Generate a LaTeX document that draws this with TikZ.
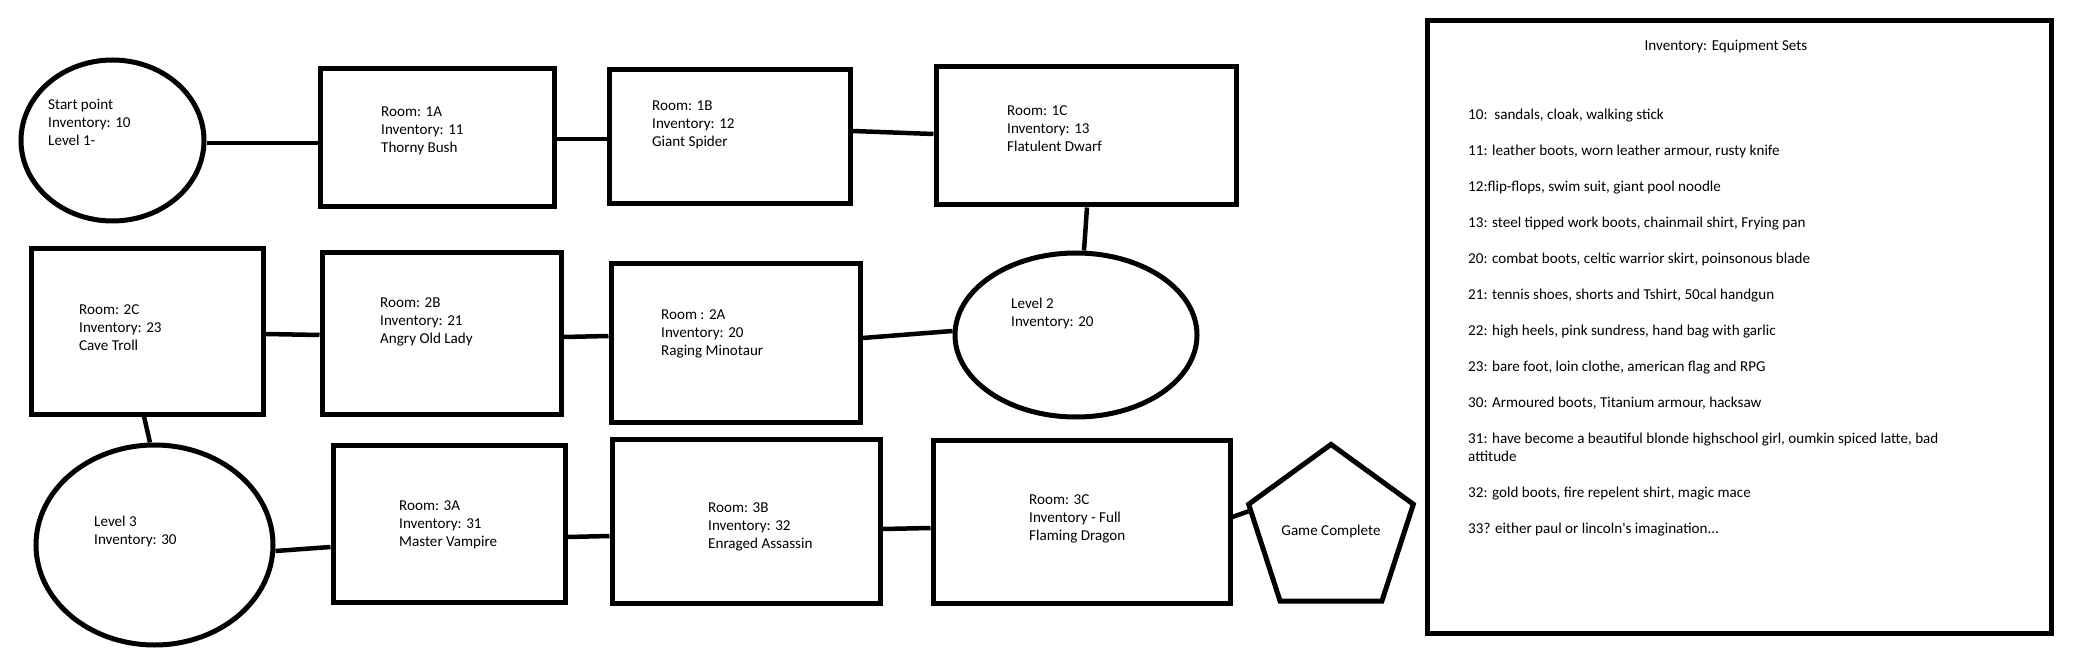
\documentclass[tikz,border=0pt]{standalone}
\usepackage{fontspec}
\setmainfont{Carlito}[Ligatures=TeXOff]
\usetikzlibrary{shapes.geometric,calc}
\begin{document}
\begin{tikzpicture}[x=1pt,y=-1pt,
  outline/.style={draw=black,line width=5pt,inner sep=0pt,fill=white},
  room/.style={outline,rectangle},
  oval/.style={outline,ellipse},
  txt/.style={align=left,inner sep=0pt,anchor=west,font=\fontsize{15.1}{18}\selectfont},
  link/.style={draw=black,line width=4.5pt}]
\useasboundingbox[fill=white] (0,0) rectangle (2080,660);

% shapes
\node[oval, minimum width=183pt, minimum height=161pt] (s) at (112.5,140.5) {};
\node[room, minimum width=234pt, minimum height=138pt] (r1a) at (437,138) {};
\node[room, minimum width=241pt, minimum height=134pt] (r1b) at (729.5,137) {};
\node[room, minimum width=300pt, minimum height=138pt] (r1c) at (1086,136) {};
\node[oval, minimum width=242pt, minimum height=164pt] (l2) at (1076,335) {};
\node[room, minimum width=249pt, minimum height=158pt] (r2a) at (735.5,343) {};
\node[room, minimum width=239pt, minimum height=161pt] (r2b) at (441.5,333.5) {};
\node[room, minimum width=232pt, minimum height=165pt] (r2c) at (147,331.5) {};
\node[oval, minimum width=237pt, minimum height=200pt] (l3) at (154.5,545) {};
\node[room, minimum width=232pt, minimum height=157pt] (r3a) at (449,523.5) {};
\node[room, minimum width=268pt, minimum height=164pt] (r3b) at (746,521) {};
\node[room, minimum width=297pt, minimum height=163pt] (r3c) at (1081.5,521.5) {};
\node[outline, regular polygon, regular polygon sides=5, minimum size=154pt,
      font=\fontsize{15.1}{18}\selectfont] (pent) at (1331,531) {Game Complete};
\node[room, minimum width=624pt, minimum height=612pt] (inv) at (1739,327) {};

% texts
\node[txt] (ts) at (48,122) {Start point\\Inventory: 10\\Level 1-};
\node[txt] (t1a) at (381,131) {Room: 1A\\Inventory: 11\\Thorny Bush};
\node[txt] (t1b) at (652,125) {Room: 1B\\Inventory: 12\\Giant Spider};
\node[txt] (t1c) at (1007,129) {Room: 1C\\Inventory: 13\\Flatulent Dwarf};
\node[txt] (tl2) at (1011,313) {Level 2\\Inventory: 20};
\node[txt] (t2a) at (661,334) {Room : 2A\\Inventory: 20\\Raging Minotaur};
\node[txt] (t2b) at (380,322) {Room: 2B\\Inventory: 21\\Angry Old Lady};
\node[txt] (t2c) at (79,328) {Room: 2C\\Inventory: 23\\Cave Troll};
\node[txt] (tl3) at (94,531.5) {Level 3\\Inventory: 30};
\node[txt] (t3a) at (399,525) {Room: 3A\\Inventory: 31\\Master Vampire};
\node[txt] (t3b) at (708,527) {Room: 3B\\Inventory: 32\\Enraged Assassin};
\node[txt] (t3c) at (1029,519) {Room: 3C\\Inventory - Full\\Flaming Dragon};
\node[txt, anchor=center] (title) at (1726,47) {Inventory: Equipment Sets};
\node[txt, anchor=north west] (list) at (1468,108.5) {%
10:\ \ sandals, cloak, walking stick\\[18pt]
11: leather boots, worn leather armour, rusty knife\\[18pt]
12:flip-flops, swim suit, giant pool noodle\\[18pt]
13: steel tipped work boots, chainmail shirt, Frying pan\\[18pt]
20: combat boots, celtic warrior skirt, poinsonous blade\\[18pt]
21: tennis shoes, shorts and Tshirt, 50cal handgun\\[18pt]
22: high heels, pink sundress, hand bag with garlic\\[18pt]
23: bare foot, loin clothe, american flag and RPG\\[18pt]
30: Armoured boots, Titanium armour, hacksaw\\[18pt]
31: have become a beautiful blonde highschool girl, oumkin spiced latte, bad\\
attitude\\[18pt]
32: gold boots, fire repelent shirt, magic mace\\[18pt]
33? either paul or lincoln's imagination...};

% connectors
\draw[link] ([yshift=-2.5pt]s.east) -- ([yshift=-5pt]r1a.west);
\draw[link] ([yshift=-1pt]r1a.east) -- ([yshift=-2pt]r1b.west);
\draw[link] ([yshift=6pt]r1b.east) -- ([yshift=2pt]r1c.west);
\draw[link] ([xshift=1pt]r1c.south) -- ([xshift=8pt]l2.north);
\draw[link] ([yshift=5pt]r2a.east) -- ([yshift=4pt]l2.west);
\draw[link] ([yshift=-3.5pt]r2b.east) -- ([yshift=7pt]r2a.west);
\draw[link] ([yshift=-2.5pt]r2c.east) -- ([yshift=-1.5pt]r2b.west);
\draw[link] ([xshift=-3pt]r2c.south) -- ([xshift=-4.5pt]l3.north);
\draw[link] ([yshift=-6pt]l3.east) -- ([yshift=-23.5pt]r3a.west);
\draw[link] ([yshift=-13.5pt]r3a.east) -- ([yshift=-15pt]r3b.west);
\draw[link] ([yshift=-8pt]r3b.east) -- ([yshift=-6.5pt]r3c.west);
\draw[link] ([yshift=4.5pt]r3c.east) -- ($(pent.corner 2)!0.08!(pent.corner 3)$);
\end{tikzpicture}
\end{document}
